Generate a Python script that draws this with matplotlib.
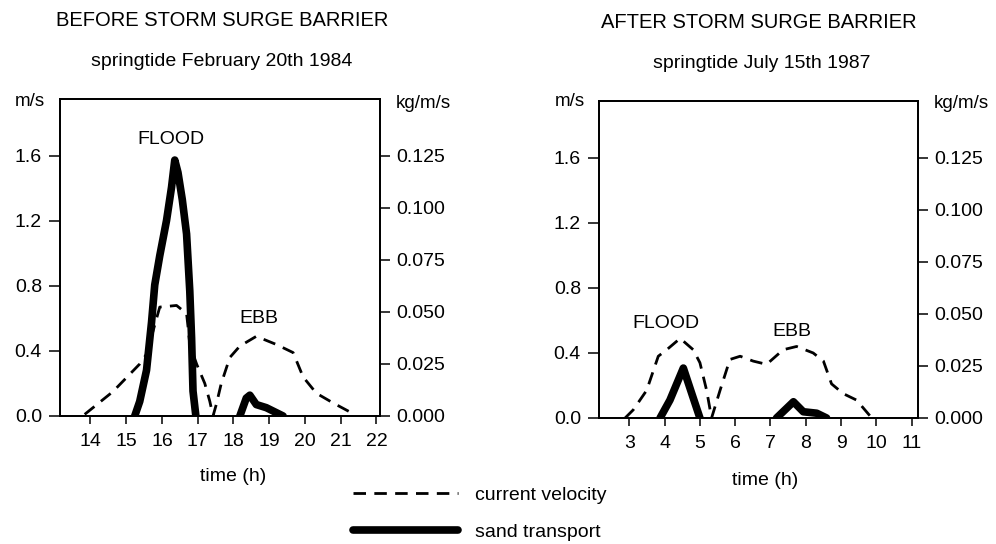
import matplotlib
matplotlib.use('Agg')
import matplotlib.pyplot as plt

plt.rcParams['font.family'] = ['Liberation Sans', 'DejaVu Sans']

# conversion between the two y scales: 1.6 m/s sits at 0.125 kg/m/s
KG_PER_MS = 0.125 / 1.6

vel_ticks = [0.0, 0.4, 0.8, 1.2, 1.6]
sand_ticks = [0.0, 0.025, 0.05, 0.075, 0.1, 0.125]

# before storm surge barrier (1984)
before_hours = [14, 15, 16, 17, 18, 19, 20, 21, 22]
before_vel_t = [13.84, 14.63, 15.38, 15.57, 15.94, 16.41, 16.69, 16.73, 16.78,
                16.97, 17.2, 17.34, 17.43, 17.52, 17.66, 17.9, 18.18, 18.64,
                19.2, 19.67, 19.95, 20.32, 20.79, 21.3]
before_vel = [0.01, 0.15, 0.32, 0.38, 0.67, 0.68, 0.63, 0.55, 0.44,
              0.32, 0.2, 0.09, 0.0, 0.07, 0.2, 0.36, 0.43, 0.49,
              0.44, 0.39, 0.24, 0.14, 0.08, 0.02]
before_flood_t = [15.24, 15.38, 15.57, 15.71, 15.80, 15.94, 16.13, 16.27, 16.36,
                  16.45, 16.57, 16.69, 16.78, 16.83, 16.87, 16.95]
before_flood_sand = [0.0, 0.007, 0.022, 0.045, 0.063, 0.077, 0.094, 0.110, 0.123,
                     0.117, 0.104, 0.0875, 0.060, 0.0375, 0.012, 0.0]
before_ebb_t = [18.18, 18.36, 18.46, 18.64, 18.92, 19.39]
before_ebb_sand = [0.0, 0.0086, 0.010, 0.0055, 0.004, 0.0]

# after storm surge barrier (1987)
after_hours = [3, 4, 5, 6, 7, 8, 9, 10, 11]
after_vel_t = [2.88, 3.11, 3.49, 3.82, 4.06, 4.44, 4.81, 5.0, 5.19, 5.33,
               5.57, 5.85, 6.14, 6.51, 6.89, 7.36, 7.74, 8.21, 8.5, 8.73,
               9.06, 9.44, 9.87]
after_vel = [0.0, 0.05, 0.17, 0.38, 0.42, 0.49, 0.42, 0.34, 0.17, 0.0,
             0.17, 0.36, 0.38, 0.35, 0.33, 0.42, 0.44, 0.40, 0.35, 0.21,
             0.15, 0.11, 0.0]
after_flood_t = [3.87, 4.15, 4.53, 4.77, 5.0]
after_flood_sand = [0.0, 0.0086, 0.0240, 0.0117, 0.0]
after_ebb_t = [7.17, 7.65, 7.93, 8.31, 8.59]
after_ebb_sand = [0.0, 0.0078, 0.003, 0.0023, 0.0]


def draw_panel(ax, xlim, hours, vel_t, vel, segments, flood_xy, ebb_xy):
    vel_line, = ax.plot(vel_t, vel, color='black', lw=2.0, ls=(0, (4.5, 3)))
    ax.set_xlim(*xlim)
    ax.set_ylim(0, 1.95)
    ax.set_xticks(hours)
    ax.set_yticks(vel_ticks)
    ax.set_yticklabels(['%.1f' % v for v in vel_ticks])
    ax.tick_params(axis='y', direction='out', length=8, width=1.1, labelsize=14, pad=5)
    ax.tick_params(axis='x', direction='out', length=6, width=1.1, labelsize=14, pad=6)
    for s in ax.spines.values():
        s.set_linewidth(1.3)
    ax.text(flood_xy[0], flood_xy[1], 'FLOOD', ha='center', va='center', fontsize=14)
    ax.text(ebb_xy[0], ebb_xy[1], 'EBB', ha='center', va='center', fontsize=14)

    tw = ax.twinx()
    sand_line = None
    for t, s in segments:
        sand_line, = tw.plot(t, s, color='black', lw=5.5, solid_capstyle='round',
                             solid_joinstyle='round')
    tw.set_ylim(0, 1.95 * KG_PER_MS)
    tw.set_yticks(sand_ticks)
    tw.set_yticklabels(['%.3f' % v for v in sand_ticks])
    tw.tick_params(axis='y', direction='out', length=7, width=1.1, labelsize=14, pad=5)
    for s in tw.spines.values():
        s.set_linewidth(1.3)
    return vel_line, sand_line


fig = plt.figure(figsize=(9.96, 5.44), dpi=100)
ax1 = fig.add_axes([60 / 996, 128 / 544, 320 / 996, 317 / 544])
ax2 = fig.add_axes([599 / 996, 126 / 544, 319 / 996, 317 / 544])

vel_line, sand_line = draw_panel(ax1, (13.15, 22.1), before_hours, before_vel_t, before_vel,
                                 [(before_flood_t, before_flood_sand),
                                  (before_ebb_t, before_ebb_sand)],
                                 (16.24, 1.70), (18.71, 0.60))
draw_panel(ax2, (2.14, 11.18), after_hours, after_vel_t, after_vel,
           [(after_flood_t, after_flood_sand), (after_ebb_t, after_ebb_sand)],
           (4.04, 0.58), (7.61, 0.53))

ax1.set_xlabel('time (h)', fontsize=14)
ax1.xaxis.set_label_coords(0.54, -0.165)
ax2.set_xlabel('time (h)', fontsize=14)
ax2.xaxis.set_label_coords(0.52, -0.17)

# titles and unit labels
fig.text(222 / 996, 1 - 21 / 544, 'BEFORE STORM SURGE BARRIER', ha='center', va='center', fontsize=14.5)
fig.text(222 / 996, 1 - 61 / 544, 'springtide February 20th 1984', ha='center', va='center', fontsize=14)
fig.text(759 / 996, 1 - 23 / 544, 'AFTER STORM SURGE BARRIER', ha='center', va='center', fontsize=14.5)
fig.text(762 / 996, 1 - 64 / 544, 'springtide July 15th 1987', ha='center', va='center', fontsize=14)

fig.text(30 / 996, 1 - 101 / 544, 'm/s', ha='center', va='center', fontsize=13.5)
fig.text(396 / 996, 1 - 103 / 544, 'kg/m/s', ha='left', va='center', fontsize=13.5)
fig.text(570 / 996, 1 - 102 / 544, 'm/s', ha='center', va='center', fontsize=13.5)
fig.text(934 / 996, 1 - 104 / 544, 'kg/m/s', ha='left', va='center', fontsize=13.5)

fig.legend([vel_line, sand_line], ['current velocity', 'sand transport'],
           loc='upper left', bbox_to_anchor=(353 / 996, 1 - 486 / 544),
           frameon=False, fontsize=14, handlelength=5.4, handletextpad=0.85,
           labelspacing=1.0, borderpad=0, borderaxespad=0)

plt.savefig('out.png', dpi=100)
